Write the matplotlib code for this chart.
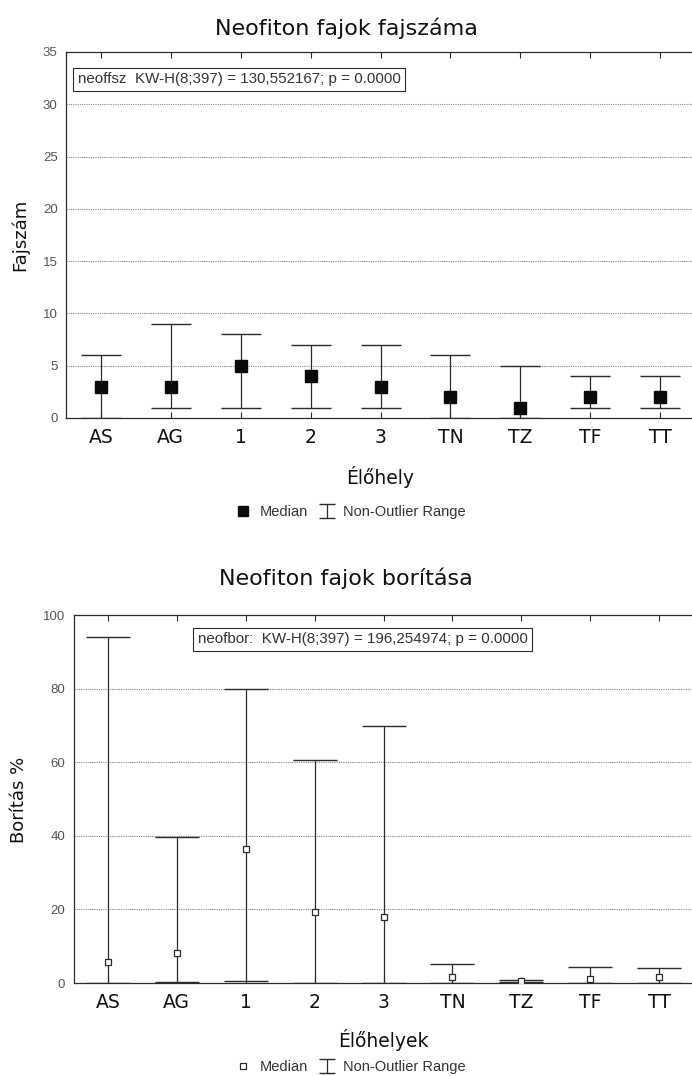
import numpy as np
import matplotlib
matplotlib.use('Agg')
import matplotlib.pyplot as plt

cats = ['AS', 'AG', '1', '2', '3', 'TN', 'TZ', 'TF', 'TT']

# Neofiton fajok fajszáma
faj_median = [3, 3, 5, 4, 3, 2, 1, 2, 2]
faj_min = [0, 1, 1, 1, 1, 0, 0, 1, 1]
faj_max = [6, 9, 8, 7, 7, 6, 5, 4, 4]

# Neofiton fajok borítása
bor_median = [5.7, 8.1, 36.4, 19.3, 17.9, 1.6, 0.6, 1.2, 1.6]
bor_min = [0, 0.3, 0.5, 0, 0, 0, 0.2, 0, 0]
bor_max = [94.0, 39.7, 80.0, 60.6, 69.8, 5.1, 0.9, 4.3, 4.0]

W, H = 692, 1076
LINE = '#2b2b2b'
GRID = '#8a8a8a'
TICKC = '#555555'

fig = plt.figure(figsize=(W / 100, H / 100), dpi=100)
ax1 = fig.add_axes([66 / W, 1 - 418 / H, 629 / W, 366 / H])
ax2 = fig.add_axes([73.5 / W, 1 - 983 / H, 620 / W, 368 / H])


def style(ax, ymax, ystep):
    ax.set_xlim(-0.5, len(cats) - 0.5)
    ax.set_ylim(0, ymax)
    ax.set_yticks(np.arange(0, ymax + 1, ystep))
    ax.set_xticks(range(len(cats)))
    ax.set_xticklabels(cats, fontsize=13.5, color='#111111')
    ax.tick_params(axis='x', direction='in', length=4, width=0.8, color=LINE,
                   top=True, pad=7)
    ax.tick_params(axis='y', length=0, labelsize=9.5, labelcolor=TICKC, pad=6)
    for lab in ax.get_yticklabels():
        lab.set_family('Liberation Sans')
    for s in ax.spines.values():
        s.set_color(LINE)
        s.set_linewidth(0.9)
    for y in np.arange(ystep, ymax, ystep):
        ax.axhline(y, color=GRID, lw=0.8, ls=(0, (1, 1)), zorder=0)


def draw(ax, med, lo, hi, capsize, **mk):
    x = np.arange(len(cats))
    med = np.array(med)
    yerr = [med - np.array(lo), np.array(hi) - med]
    ax.errorbar(x, med, yerr=yerr, fmt='none', ecolor=LINE, elinewidth=0.9,
                capsize=capsize, capthick=1.0, zorder=2)
    ax.plot(x, med, ls='none', marker='s', zorder=3, **mk)


# --- upper chart
style(ax1, 35, 5)
mk1 = dict(markersize=9, markerfacecolor='#0a0a0a', markeredgecolor='#0a0a0a')
draw(ax1, faj_median, faj_min, faj_max, 14.5, **mk1)
ax1.text(0.019, 0.925, 'neoffsz  KW-H(8;397) = 130,552167; p = 0.0000',
         transform=ax1.transAxes, fontsize=10.9, family='Liberation Sans',
         color='#333333', va='center', ha='left',
         bbox=dict(boxstyle='square,pad=0.3', fc='white', ec=LINE, lw=0.8))

fig.text(346 / W, 1 - 28 / H, 'Neofiton fajok fajszáma', ha='center',
         va='center', fontsize=16, color='#111111')
fig.text(20 / W, 1 - 235 / H, 'Fajszám', rotation=90, ha='center',
         va='center', fontsize=13, color='#111111')
fig.text(380 / W, 1 - 477 / H, 'Élőhely', ha='center', va='center',
         fontsize=13.5, color='#111111')

# --- lower chart
style(ax2, 100, 20)
mk2 = dict(markersize=5, markerfacecolor='white', markeredgecolor=LINE,
           markeredgewidth=0.9)
draw(ax2, bor_median, bor_min, bor_max, 15.5, **mk2)
ax2.text(0.2, 0.934, 'neofbor:  KW-H(8;397) = 196,254974; p = 0.0000',
         transform=ax2.transAxes, fontsize=10.9, family='Liberation Sans',
         color='#333333', va='center', ha='left',
         bbox=dict(boxstyle='square,pad=0.3', fc='white', ec=LINE, lw=0.8))

fig.text(346 / W, 1 - 578 / H, 'Neofiton fajok borítása', ha='center',
         va='center', fontsize=16, color='#111111')
fig.text(19 / W, 1 - 800 / H, 'Borítás %', rotation=90, ha='center',
         va='center', fontsize=13, color='#111111')
fig.text(383 / W, 1 - 1040 / H, 'Élőhelyek', ha='center', va='center',
         fontsize=13.5, color='#111111')

# --- legends (dummy handles, drawn outside data)
for ax, mk, ypos in ((ax1, mk1, 1 - 512 / H), (ax2, mk2, 1 - 1067 / H)):
    m = dict(mk)
    m['markersize'] = 7.5 if mk is mk1 else 5
    h_med, = ax.plot([np.nan], [np.nan], ls='none', marker='s', **m)
    h_rng = ax.errorbar([np.nan], [np.nan], yerr=[[np.nan], [np.nan]],
                        fmt='none', ecolor=LINE, elinewidth=0.9, capsize=6)
    fig.legend([h_med, h_rng], ['Median', 'Non-Outlier Range'],
               loc='center', bbox_to_anchor=(350 / W, ypos), ncol=2,
               frameon=False, handlelength=1.3,
               handletextpad=0.5, columnspacing=0.6, borderpad=0.1,
               prop={'family': 'Liberation Sans', 'size': 10.5},
               labelcolor='#333333')

fig.savefig('out.png', dpi=100)
